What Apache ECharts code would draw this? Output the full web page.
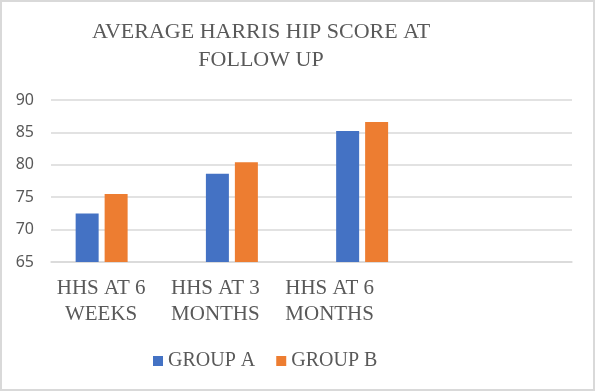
<!DOCTYPE html>
<html><head><meta charset="utf-8">
<script src="https://cdn.jsdelivr.net/npm/echarts@6/dist/echarts.min.js"></script>
<style>html,body{margin:0;padding:0;background:#fff}#c{width:596px;height:392px}</style>
</head><body><div id="c"></div>
<script>
const categories = ['HHS AT 6\nWEEKS', 'HHS AT 3\nMONTHS', 'HHS AT 6\nMONTHS', ''];
const groupA = [72.5, 78.6, 85.2, null];
const groupB = [75.5, 80.4, 86.6, null];
const seriesNames = ['GROUP A', 'GROUP B'];
const yTicks = { min: 65, max: 90, interval: 5 };
const labelShift = [30, 62, 94, 0];

const serif = '"Liberation Serif", "Times New Roman", serif';
const chart = echarts.init(document.getElementById('c'), null, { renderer: 'canvas' });
chart.setOption({
  backgroundColor: '#fff',
  animation: false,
  graphic: [{ type: 'rect', shape: { x: 1, y: 1, width: 593, height: 389 }, style: { fill: 'none', stroke: '#d9d9d9', lineWidth: 2 }, silent: true }],
  title: {
    text: 'AVERAGE HARRIS HIP SCORE AT\nFOLLOW UP',
    left: 256, top: 13, textAlign: 'center',
    textStyle: { fontFamily: serif, fontWeight: 'normal', fontSize: 22, lineHeight: 28, color: '#595959' }
  },
  legend: {
    data: seriesNames, left: 148, top: 346, itemWidth: 10, itemHeight: 10, itemGap: 21, icon: 'rect',
    textStyle: { fontFamily: serif, fontSize: 20, color: '#595959' }
  },
  grid: { left: 51, right: 24, top: 100, bottom: 130, containLabel: false },
  xAxis: {
    type: 'category',
    data: categories.map((c, i) => ({ value: c, textStyle: { padding: [0, labelShift[i], 0, 0] } })),
    axisTick: { show: false },
    axisLine: { lineStyle: { color: '#d9d9d9', width: 1.5 } },
    axisLabel: { interval: 0, margin: 13, fontFamily: serif, fontSize: 21, lineHeight: 26, color: '#595959' }
  },
  yAxis: {
    type: 'value', min: yTicks.min, max: yTicks.max, interval: yTicks.interval,
    axisLine: { show: false }, axisTick: { show: false },
    splitLine: { lineStyle: { color: '#d9d9d9', width: 1.5 } },
    axisLabel: { margin: 17, fontFamily: '"Noto Sans", sans-serif', fontSize: 16, color: '#595959' }
  },
  series: [
    { name: seriesNames[0], type: 'bar', data: groupA, barWidth: 23, barGap: '26%', itemStyle: { color: '#4472C4' } },
    { name: seriesNames[1], type: 'bar', data: groupB, barWidth: 23, barGap: '26%', itemStyle: { color: '#ED7D31' } },
    { name: 'empty', type: 'bar', data: [null, null, null, null], barWidth: 23, barGap: '26%' }
  ]
});
</script></body></html>
